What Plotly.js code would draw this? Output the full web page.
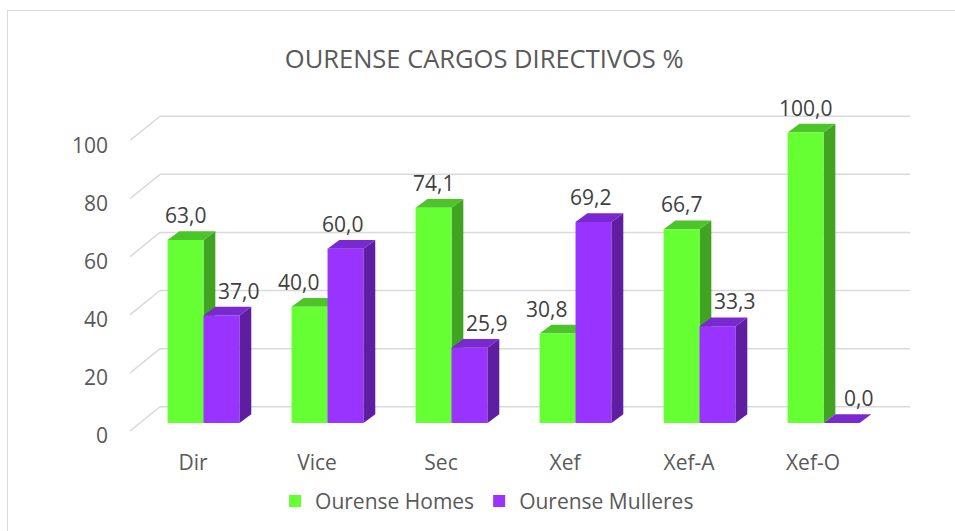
<!DOCTYPE html>
<html>
<head>
<meta charset="utf-8">
<script src="https://cdn.plot.ly/plotly-3.0.1.min.js"></script>
<style>
html,body{margin:0;padding:0;background:#fff;overflow:hidden;}
#wrap{position:relative;width:955px;height:531px;}
#chart{position:absolute;left:0;top:0;width:955px;height:531px;}
#frame{position:absolute;left:7px;top:10px;width:1000px;height:600px;border:1.5px solid #d9d9d9;pointer-events:none;box-sizing:border-box;}
</style>
</head>
<body>
<div id="wrap"><div id="chart"></div><div id="frame"></div></div>
<script>
// ---- data ----
const categories = ["Dir", "Vice", "Sec", "Xef", "Xef-A", "Xef-O"];
const homes = [63.0, 40.0, 74.1, 30.8, 66.7, 100.0];
const mulleres = [37.0, 60.0, 25.9, 69.2, 33.3, 0.0];
const seriesNames = ["Ourense Homes", "Ourense Mulleres"];
const yTicks = [0, 20, 40, 60, 80, 100];

// ---- styling ----
const FONT = "Open Sans, DejaVu Sans, sans-serif";
const TXT = "#595959";
const colFront = ["#66FF33", "#9933FF"];
const colSide = ["#40A321", "#5F1E9F"];
const colTop = ["#4DC42A", "#7A28CF"];
const BW = 0.29;               // bar width (category units)
const OFF = [-0.205, 0.085];   // bar offsets
const DX = 0.095, DY = 3.0;    // 3D depth in axis units

const xs = categories.map((c, i) => i);
const Y0 = -5.85, Y1 = 109.47;

const traces = [homes, mulleres].map((vals, s) => ({
  type: "bar", x: xs, y: vals, name: seriesNames[s],
  width: BW, offset: OFF[s],
  marker: {color: colFront[s], line: {width: 0}},
  hoverinfo: "skip", showlegend: true
}));
// dummy trace to activate yaxis2 (tick labels)
traces.push({type: "scatter", x: [xs[0]], y: [0], yaxis: "y2", mode: "markers",
  marker: {opacity: 0}, showlegend: false, hoverinfo: "skip"});

const shapes = [];
// back wall gridlines
const xL = -0.508, xB = xL + 30/124, xR = 5.782;
yTicks.forEach(v => {
  shapes.push({type: "line", xref: "x", yref: "y", x0: xB, x1: xR, y0: v + 5.6, y1: v + 5.6,
    line: {color: "#d9d9d9", width: 1.5}, layer: "below"});
  shapes.push({type: "line", xref: "x", yref: "y", x0: xL, x1: xB, y0: v - 2.75, y1: v + 5.6,
    line: {color: "#d9d9d9", width: 1.5}, layer: "below"});
});
// 3D faces
[homes, mulleres].forEach((vals, s) => {
  vals.forEach((v, i) => {
    const a = i + OFF[s], b = a + BW;
    const side = `M ${b},0 L ${b+DX},${DY} L ${b+DX},${v+DY} L ${b},${v} Z`;
    const top = `M ${a},${v} L ${a+DX},${v+DY} L ${b+DX},${v+DY} L ${b},${v} Z`;
    const layer = s === 0 ? "between" : "above";
    shapes.push({type: "path", xref: "x", yref: "y", path: side, fillcolor: colSide[s],
      line: {width: 0}, layer: layer});
    shapes.push({type: "path", xref: "x", yref: "y", path: top, fillcolor: colTop[s],
      line: {width: 0}, layer: layer});
  });
});

// data labels
const fmt = v => v.toFixed(1).replace(".", ",");
const annotations = [];
categories.forEach((c, i) => {
  const g = homes[i], m = mulleres[i];
  const gShift = g >= m ? 0 : -11;
  const mShift = g >= m ? 17 : -3;
  [[g, 0, gShift], [m, 1, mShift]].forEach(([v, s, sh]) => {
    annotations.push({x: i + OFF[s] + BW/2, y: v, xref: "x", yref: "y",
      text: fmt(v), showarrow: false, xanchor: "center", yanchor: "middle",
      xshift: sh, yshift: 25, font: {family: FONT, size: 21, color: "#404040"}});
  });
});

const layout = {
  width: 955, height: 531,
  margin: {l: 130, r: 45, t: 105, b: 91, pad: 0, autoexpand: false},
  paper_bgcolor: "#fff", plot_bgcolor: "rgba(0,0,0,0)",
  title: {text: "OURENSE CARGOS DIRECTIVOS %", x: 0.507, xanchor: "center", y: 0.889, yanchor: "middle",
    font: {family: FONT, size: 25.5, color: TXT}},
  barmode: "overlay",
  showlegend: true,
  legend: {orientation: "h", xref: "container", yref: "container", x: 0.51, xanchor: "center",
    y: 0.056, yanchor: "middle",
    font: {family: FONT, size: 21, color: TXT}, itemwidth: 30, tracegroupgap: 0, traceorder: "normal",
    itemclick: false},
  xaxis: {range: [xL, xR], tickvals: xs, ticktext: categories, showgrid: false, zeroline: false,
    showline: false, ticks: "", ticklabelstandoff: 8, tickfont: {family: FONT, size: 21, color: TXT}, fixedrange: true},
  yaxis: {range: [Y0, Y1], showgrid: false, zeroline: false, showline: false, showticklabels: false,
    ticks: "", fixedrange: true},
  yaxis2: {overlaying: "y", side: "left", range: [Y0 + 4.4, Y1 + 4.4], tickvals: yTicks,
    showgrid: false, zeroline: false, showline: false, ticks: "", ticklabelstandoff: 21,
    tickfont: {family: FONT, size: 21, color: TXT}, fixedrange: true},
  shapes: shapes,
  annotations: annotations
};

Plotly.newPlot("chart", traces, layout, {displayModeBar: false, staticPlot: true});
</script>
</body>
</html>
